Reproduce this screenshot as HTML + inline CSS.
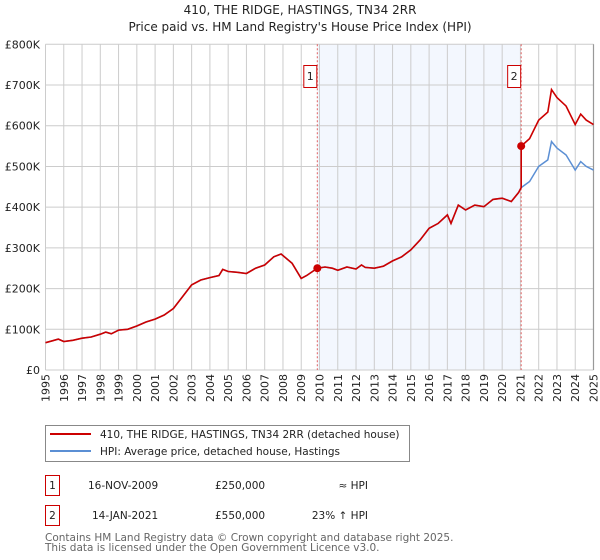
<!DOCTYPE html>
<html><head><meta charset="utf-8"><style>
body{margin:0;background:#fff;width:600px;height:560px;overflow:hidden;font-family:"DejaVu Sans","Liberation Sans",sans-serif;}
svg{display:block}
</style></head><body>
<svg id="chart" width="600" height="560" xmlns="http://www.w3.org/2000/svg" font-family="DejaVu Sans, Liberation Sans, sans-serif">
<text x="300" y="14" text-anchor="middle" font-size="12" fill="#222">410, THE RIDGE, HASTINGS, TN34 2RR</text>
<text x="300" y="31" text-anchor="middle" font-size="12" fill="#222">Price paid vs. HM Land Registry's House Price Index (HPI)</text>
<g id="plot"></g>
<g>
<rect x="45.5" y="425.5" width="364" height="36" fill="#fff" stroke="#888"/>
<line x1="50" y1="434" x2="91" y2="434" stroke="#cc0000" stroke-width="2"/>
<text x="100" y="438" font-size="10.5" fill="#222">410, THE RIDGE, HASTINGS, TN34 2RR (detached house)</text>
<line x1="50" y1="451" x2="91" y2="451" stroke="#5b8fd4" stroke-width="2"/>
<text x="100" y="455" font-size="10.5" fill="#222">HPI: Average price, detached house, Hastings</text>
</g>
<g font-size="10.5" fill="#222">
<rect x="45.5" y="475.5" width="14" height="20" fill="#fff" stroke="#cc0000"/>
<text x="52.5" y="489" text-anchor="middle">1</text>
<text x="88" y="489">16-NOV-2009</text>
<text x="215" y="489">£250,000</text>
<text x="368" y="489" text-anchor="end">≈ HPI</text>
<rect x="45.5" y="505.5" width="14" height="20" fill="#fff" stroke="#cc0000"/>
<text x="52.5" y="519" text-anchor="middle">2</text>
<text x="92" y="519">14-JAN-2021</text>
<text x="215" y="519">£550,000</text>
<text x="368" y="519" text-anchor="end">23% ↑ HPI</text>
</g>
<text x="45" y="541" font-size="10.5" fill="#666">Contains HM Land Registry data © Crown copyright and database right 2025.</text>
<text x="45" y="551" font-size="10.5" fill="#666">This data is licensed under the Open Government Licence v3.0.</text>
</svg>
<script>
const yearTicks=[1995,1996,1997,1998,1999,2000,2001,2002,2003,2004,2005,2006,2007,2008,2009,2010,2011,2012,2013,2014,2015,2016,2017,2018,2019,2020,2021,2022,2023,2024,2025];
const valueTicks=[0,100000,200000,300000,400000,500000,600000,700000,800000];
const valueTickLabels=["£0","£100K","£200K","£300K","£400K","£500K","£600K","£700K","£800K"];
const hpiDates=[1995.0,1995.4,1995.7,1996.0,1996.5,1997.0,1997.5,1998.0,1998.3,1998.6,1999.0,1999.5,2000.0,2000.5,2001.0,2001.5,2002.0,2002.5,2003.0,2003.5,2004.0,2004.5,2004.7,2005.0,2005.5,2006.0,2006.5,2007.0,2007.5,2007.9,2008.5,2009.0,2009.3,2009.88,2010.3,2010.7,2011.0,2011.5,2012.0,2012.3,2012.5,2013.0,2013.5,2014.0,2014.5,2015.0,2015.5,2016.0,2016.5,2017.0,2017.2,2017.6,2018.0,2018.5,2019.0,2019.5,2020.0,2020.5,2020.9,2021.04,2021.5,2022.0,2022.5,2022.7,2023.0,2023.5,2024.0,2024.3,2024.6,2025.0];
const hpiValues=[67000,72000,76000,70000,73000,78000,81000,88000,93000,89000,98000,100000,108000,118000,125000,135000,151000,180000,209000,221000,227000,232000,247000,242000,240000,237000,250000,258000,278000,285000,262000,225000,232000,250000,253000,250000,245000,253000,248000,258000,252000,250000,255000,268000,278000,295000,319000,348000,360000,381000,360000,405000,393000,405000,401000,419000,422000,414000,436000,448000,463000,500000,516000,561000,545000,528000,491000,512000,500000,491000];
const saleDates=[2009.88,2021.04];
const salePrices=[250000,550000];
const saleLabels=["1","2"];
const NS="http://www.w3.org/2000/svg";
const X0=45.5,X1=593.5,Y0=370,Y1=44.3;
const xs=d=>X0+(d-1995)/(2025-1995)*(X1-X0);
const ys=v=>Y0-v/800000*(Y0-Y1);
const plot=document.getElementById('plot');
function mk(tag,attrs){const e=document.createElementNS(NS,tag);for(const k in attrs)e.setAttribute(k,attrs[k]);plot.appendChild(e);return e;}
let e=mk('rect',{x:xs(saleDates[0]),y:Y1,width:xs(saleDates[1])-xs(saleDates[0]),height:Y0-Y1,fill:'#eef3fd',opacity:0.7});


yearTicks.forEach(y=>{
 const g=mk('line',{x1:xs(y),x2:xs(y),y1:Y1,y2:Y0,stroke:'#cccccc','stroke-width':1});
 
 
 const t=mk('text',{transform:`translate(${xs(y)+4},374) rotate(-90)`,'text-anchor':'end','font-size':11,fill:'#222'});
 t.textContent=y;
 
 
});
valueTicks.forEach((v,i)=>{
 const g=mk('line',{x1:X0,x2:X1,y1:ys(v),y2:ys(v),stroke:'#cccccc','stroke-width':1});
 
 
 const t=mk('text',{x:40,y:ys(v)+4,'text-anchor':'end','font-size':11,fill:'#222'});
 t.textContent=valueTickLabels[i];
 
 
});
e=mk('line',{x1:X1,x2:X1,y1:Y1,y2:Y0,stroke:'#999','stroke-width':1.2});


saleDates.forEach((d,i)=>{
 const l=mk('line',{x1:xs(d),x2:xs(d),y1:Y1,y2:Y0,stroke:'#e06060','stroke-width':1,'stroke-dasharray':'2,2'});
 
 
 const r=mk('rect',{x:xs(d)-13.5,y:65.5,width:13,height:22,fill:'#fff',stroke:'#cc0000'});
 
 
 const t=mk('text',{x:xs(d)-7,y:80,'text-anchor':'middle','font-size':11,fill:'#222'});
 t.textContent=saleLabels[i];
 
 
});
// HPI line
const hp=hpiDates.map((d,i)=>xs(d).toFixed(1)+','+ys(hpiValues[i]).toFixed(1)).join(' ');
e=mk('polyline',{points:hp,fill:'none',stroke:'#5b8fd4','stroke-width':1.5});


// property line: HPI indexed from each sale
const pp=[];
hpiDates.forEach((d,i)=>{
 let k=-1;saleDates.forEach((s,j)=>{if(d>=s)k=j;});
 let v=hpiValues[i];
 if(k>=0){const base=hpiValues[hpiDates.indexOf(saleDates[k])]||v;v=salePrices[k]*hpiValues[i]/base;}
 if(k===1&&d===saleDates[1]){pp.push(xs(d).toFixed(1)+','+ys(hpiValues[i]).toFixed(1));}
 pp.push(xs(d).toFixed(1)+','+ys(v).toFixed(1));
});
e=mk('polyline',{points:pp.join(' '),fill:'none',stroke:'#cc0000','stroke-width':1.6});


saleDates.forEach((d,i)=>{
 const c=mk('circle',{cx:xs(d),cy:ys(salePrices[i]),r:4,fill:'#cc0000'});
 
 
});
</script>
</body></html>
